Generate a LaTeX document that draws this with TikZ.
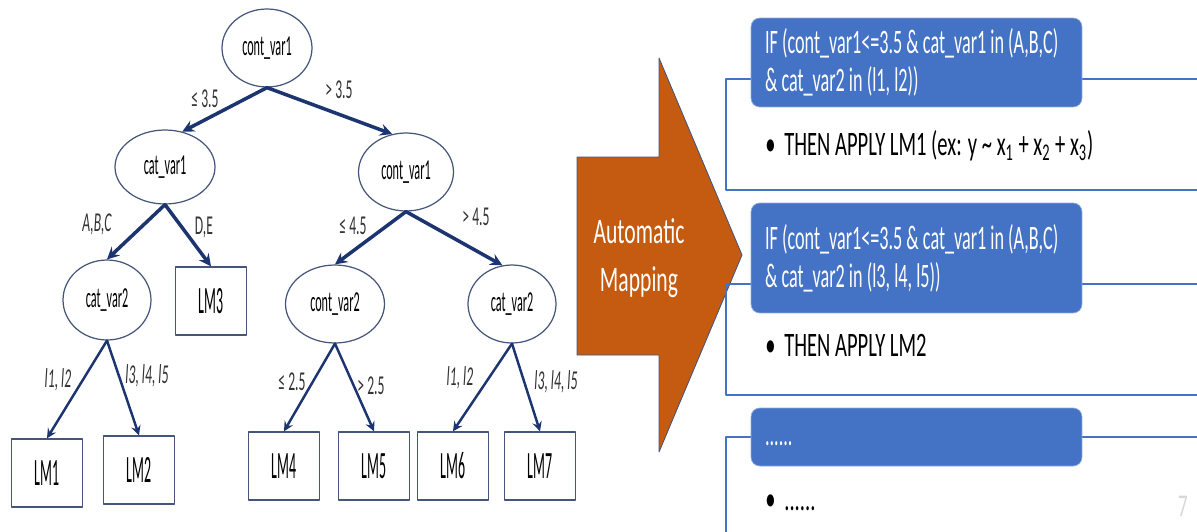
\documentclass[tikz,border=0pt]{standalone}
\usepackage{fontspec}
\setmainfont{Carlito}
\newfontfamily\treefont{Carlito}[FakeStretch=0.42]
\newfontfamily\leaffont{Carlito}[FakeStretch=0.36]
\newfontfamily\labfont{Carlito}[FakeStretch=0.5]
\newfontfamily\hdrfont{Carlito}[FakeStretch=0.53]
\newfontfamily\slidefont{Carlito}[FakeStretch=0.6]
\usetikzlibrary{shapes.geometric}
\definecolor{navy}{RGB}{28,52,112}
\definecolor{nodeline}{RGB}{70,86,122}
\definecolor{mapfill}{RGB}{197,90,17}
\definecolor{hdrblue}{RGB}{68,114,196}
\definecolor{pageno}{RGB}{215,215,215}
\tikzset{
  split/.style={ellipse, draw=nodeline, line width=0.7pt, inner sep=0pt,
    minimum width=1.9cm, minimum height=1.56cm, font=\treefont\fontsize{16.5}{18}\selectfont},
  leaf/.style={rectangle, draw=nodeline, line width=0.8pt, inner sep=0pt,
    minimum width=1.42cm, minimum height=1.36cm, font=\leaffont\fontsize{22}{24}\selectfont},
  cond/.style={font=\labfont\fontsize{15.5}{17}\selectfont, text=black!80, inner sep=0pt},
  topedge/.style={->, draw=navy, line width=2pt},
  lowedge/.style={->, draw=navy, line width=1.4pt},
  rulebox/.style={draw=hdrblue, line width=1.1pt},
  header/.style={fill=hdrblue, draw=hdrblue!60, rounded corners=5pt, minimum width=6.62cm},
  hdrtext/.style={anchor=west, xshift=0.28cm, inner sep=0pt, text=white, align=left,
    font=\hdrfont\fontsize{19.5}{21.5}\selectfont},
  bullet/.style={anchor=base west, inner sep=0pt, font=\slidefont\fontsize{19.5}{21.5}\selectfont}
}
\begin{document}
\begin{tikzpicture}[x=0.02cm, y=-0.02cm, line cap=round, line join=round, >=stealth]
\clip (0,0) rectangle (1197,531);

% regression tree
\node[split, minimum width=1.8cm] (root) at (267,48) {cont\_var1};
\node[split, minimum width=2cm, minimum height=1.48cm] (cat1) at (165,167) {cat\_var1};
\node[split] (cont1) at (406,172) {cont\_var1};
\node[split, minimum width=1.76cm, minimum height=1.6cm] (cat2a) at (107,300) {cat\_var2};
\node[split, minimum width=1.98cm] (cont2) at (335,304) {cont\_var2};
\node[split, minimum width=1.76cm] (cat2b) at (512,304) {cat\_var2};
\node[leaf] (lm3) at (211,301) {LM3};
\node[leaf] (lm1) at (47,473) {LM1};
\node[leaf] (lm2) at (139,470) {LM2};
\node[leaf] (lm4) at (284,466) {LM4};
\node[leaf] (lm5) at (374,466) {LM5};
\node[leaf] (lm6) at (453,466) {LM6};
\node[leaf] (lm7) at (540,466) {LM7};

\draw[topedge] (root.south) -- (cat1.64);
\draw[topedge] (root.south) -- (cont1.110);
\draw[topedge] (cat1.south) -- (cat2a.north);
\draw[topedge] (cat1.south) -- (lm3.north);
\draw[topedge] (cont1.south) -- (cont2.north);
\draw[topedge] (cont1.south) -- (cat2b.104);
\draw[lowedge] (cat2a.south) -- (lm1.north);
\draw[lowedge] (cat2a.south) -- (lm2.north);
\draw[lowedge] (cont2.south) -- (lm4.north);
\draw[lowedge] (cont2.south) -- (lm5.north);
\draw[lowedge] (cat2b.south) -- (lm6.north);
\draw[lowedge] (cat2b.south) -- (lm7.north);

\node[cond] (c1) at (205,99) {≤ 3.5};
\node[cond] (c2) at (339,90) {> 3.5};
\node[cond] (c3) at (97,224) {\itshape A,B,C};
\node[cond] (c4) at (204,228) {D,E};
\node[cond] (c5) at (353,226) {≤ 4.5};
\node[cond] (c6) at (476,217) {> 4.5};
\node[cond] (c7) at (58,380) {\itshape l1, l2};
\node[cond] (c8) at (147,376) {\itshape l3, l4, l5};
\node[cond] (c9) at (292,382) {≤ 2.5};
\node[cond] (c10) at (371,386) {> 2.5};
\node[cond] (c11) at (460,378) {\itshape l1, l2};
\node[cond] (c12) at (556,382) {\itshape l3, l4, l5};

% mapping arrow
\filldraw[fill=mapfill, draw=nodeline, line width=0.5pt]
  (577,157) -- (659,157) -- (659,58) -- (742,255) -- (659,452) -- (659,355) -- (577,355) -- cycle;
\node[text=white, align=center, font=\slidefont\fontsize{20.5}{27}\selectfont] (map) at (639,258) {Automatic\\Mapping};

% rules
\draw[rulebox] (1210,79) -- (726,79) -- (726,190) -- (1210,190);
\draw[rulebox] (1210,284) -- (726,284) -- (726,395) -- (1210,395);
\draw[rulebox] (1210,437) -- (726,437) -- (726,540);

\node[header, minimum height=1.78cm] (if1) at (916.5,62.5) {};
\node[hdrtext] (if1txt) at (if1.west)
  {IF (cont\_var1<=3.5 \& cat\_var1 in (A,B,C)\\\& cat\_var2 in (l1, l2))};
\node[header, minimum height=2.2cm] (if2) at (916.5,258) {};
\node[hdrtext] (if2txt) at (if2.west)
  {IF (cont\_var1<=3.5 \& cat\_var1 in (A,B,C)\\\& cat\_var2 in (l3, l4, l5))};
\node[header, minimum height=1.16cm] (if3) at (916.5,437) {};
\node[hdrtext, yshift=-4pt] (if3txt) at (if3.west) {......};

\node[bullet] (then1) at (765,155)
  {\textbullet\hspace{5pt}THEN APPLY LM1 (ex: y \textasciitilde{} x\textsubscript{1} + x\textsubscript{2} + x\textsubscript{3})};
\node[bullet] (then2) at (765,356) {\textbullet\hspace{5pt}THEN APPLY LM2};
\node[bullet] (then3) at (765,510) {\textbullet\hspace{5pt}......};

\node[text=pageno, font=\slidefont\fontsize{18}{20}\selectfont] (page) at (1183,506) {7};
\end{tikzpicture}
\end{document}
